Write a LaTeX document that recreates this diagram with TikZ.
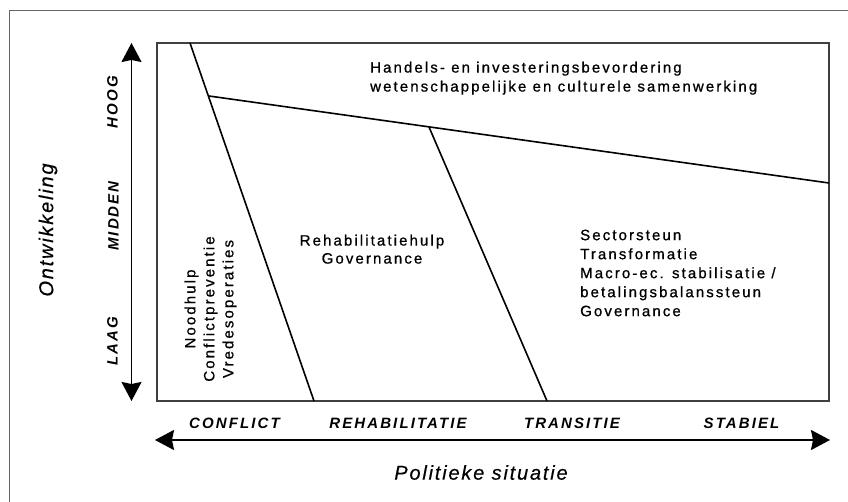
\documentclass[tikz,border=0pt]{standalone}
\usepackage{fontspec}
\setmainfont{Liberation Sans}
\newfontfamily\bodyfont[LetterSpace=14,FakeBold=0.8]{Liberation Sans}
\newfontfamily\labfont[LetterSpace=14]{Liberation Sans}
\newfontfamily\bigfont[LetterSpace=9,FakeBold=0.4]{Liberation Sans}
\usetikzlibrary{arrows.meta}
\tikzset{
  txt/.style={font=\bodyfont\fontsize{15pt}{19pt}\selectfont, inner sep=0pt},
  axlab/.style={font=\labfont\bfseries\itshape\fontsize{15pt}{18pt}\selectfont, inner sep=0pt},
  bigtitle/.style={font=\bigfont\itshape\fontsize{20pt}{24pt}\selectfont, inner sep=0pt},
  frameline/.style={draw=black!60, line width=1pt},
  boxline/.style={draw=black!75, line width=1.3pt},
  divline/.style={draw=black, line width=1.6pt},
  axisarrow/.style={draw=black, line width=1.8pt, {Stealth[length=19pt,width=20pt,inset=2pt]}-{Stealth[length=19pt,width=20pt,inset=2pt]}}
}
\begin{document}
\begin{tikzpicture}[x=1pt,y=-1pt]
\useasboundingbox (0,0) rectangle (848,502);
% outer frame
\coordinate (fbl) at (9.5,502);
\coordinate (ftr) at (848,11);
\draw[frameline] (fbl) |- (ftr);
% main box
\coordinate (btl) at (157,43);
\coordinate (bbr) at (829,401);
\draw[boxline] (btl) rectangle (bbr);
% dividing lines
\coordinate (d1t) at (190,43);
\coordinate (d1b) at (314,401);
\coordinate (hl) at (209,96);
\coordinate (hr) at (829,183);
\coordinate (jn) at (429,127);
\coordinate (d2b) at (547,401);
\draw[divline] (d1t) -- (d1b);
\draw[divline] (hl) -- (hr);
\draw[divline] (jn) -- (d2b);
% axes
\coordinate (vtop) at (131.5,43);
\coordinate (vbot) at (131.5,401);
\coordinate (hleft) at (155,440);
\coordinate (hright) at (830,440);
\draw[axisarrow] (vbot) -- (vtop);
\draw[axisarrow] (hleft) -- (hright);
% axis labels
\node[axlab, rotate=90] (hoog) at (112.5,102) {HOOG};
\node[axlab, rotate=90] (midden) at (113.5,216) {MIDDEN};
\node[axlab, rotate=90] (laag) at (112.5,341) {LAAG};
\node[bigtitle, rotate=90] (ontw) at (48,230) {Ontwikkeling};
\node[axlab] (conflict) at (234.5,423.5) {CONFLICT};
\node[axlab] (rehab) at (398,423.5) {REHABILITATIE};
\node[axlab] (transitie) at (572,423.5) {TRANSITIE};
\node[axlab] (stabiel) at (741.5,423.5) {STABIEL};
\node[bigtitle] (polsit) at (481,472.5) {Politieke situatie};
% region texts
\node[txt, align=left, anchor=north west] (top) at (370,61.5)
  {Handels- en investeringsbevordering\\wetenschappelijke en culturele samenwerking};
\node[txt, align=center, anchor=north] (rehabtxt) at (372,234.5)
  {Rehabilitatiehulp\\[-1pt]Governance};
\node[txt, align=left, anchor=north west] (sector) at (580,229.5)
  {Sectorsteun\\Transformatie\\Macro-ec. stabilisatie /\\betalingsbalanssteun\\Governance};
\node[txt, align=center, rotate=90] (nood) at (210.5,309)
  {Noodhulp\\Conflictpreventie\\Vredesoperaties};
\end{tikzpicture}
\end{document}
